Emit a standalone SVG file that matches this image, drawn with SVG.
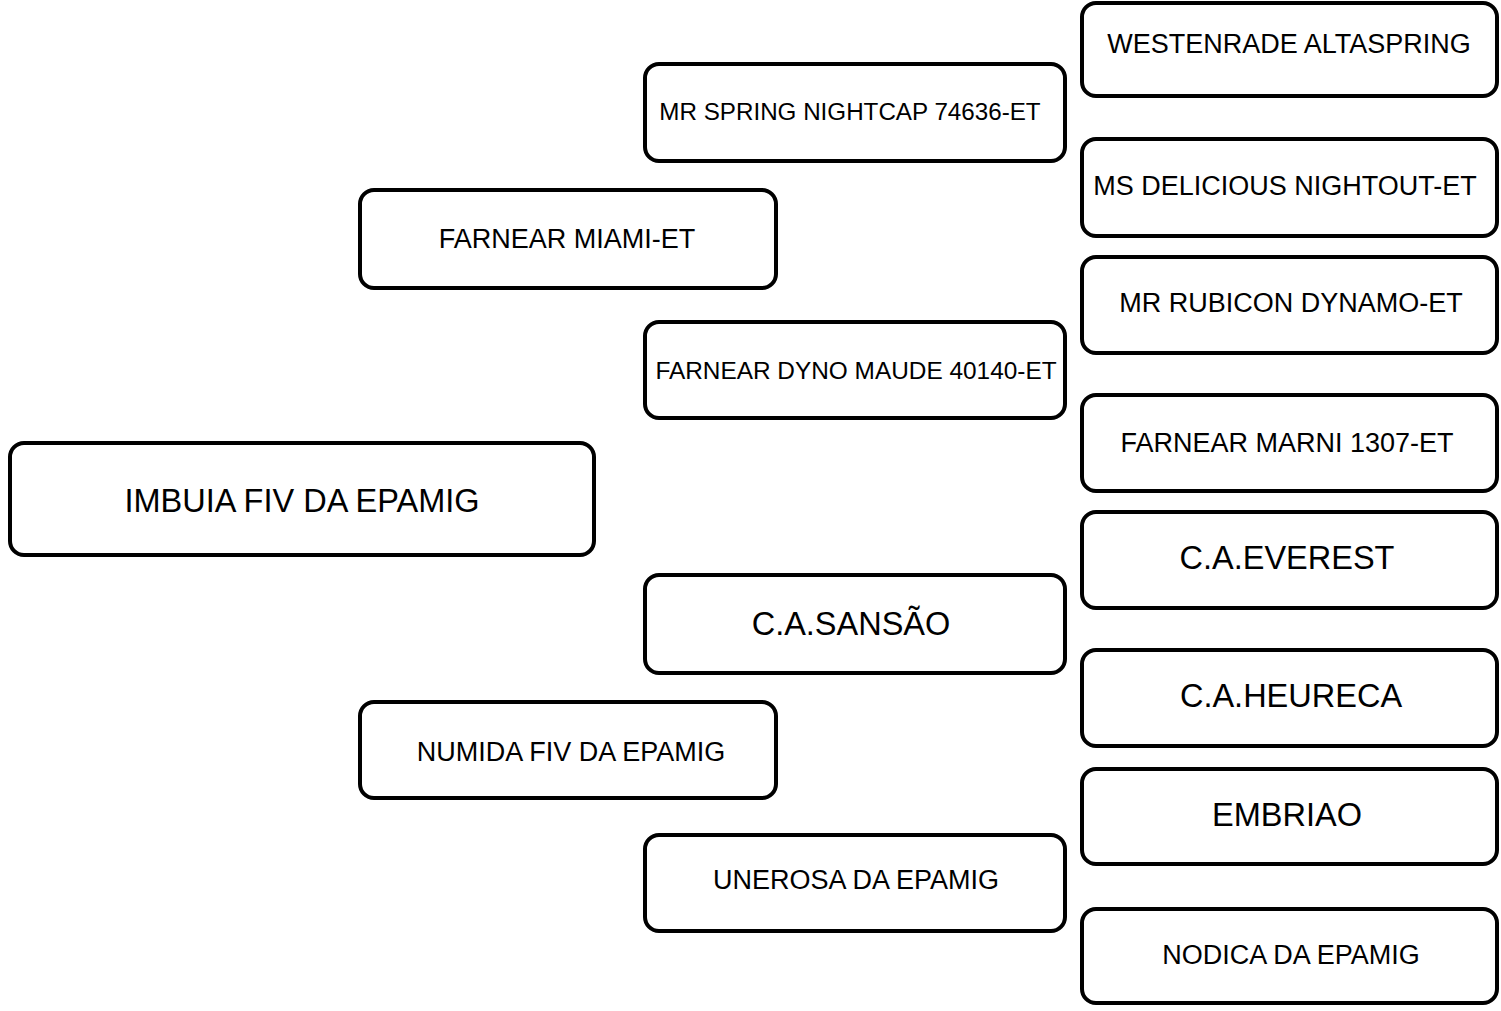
<svg xmlns="http://www.w3.org/2000/svg" width="1501" height="1011" viewBox="0 0 1501 1011">
<style>
.box{fill:#fff;stroke:#000;stroke-width:4}
.t{font-family:"Liberation Sans",Arial,sans-serif;fill:#000;text-anchor:middle}
.s{font-size:27px}
.l{font-size:32.5px}
</style>
<rect width="1501" height="1011" fill="#fff"/>
<g id="connectors"></g>
<g id="n-root"><rect class="box" x="10" y="443" width="584" height="112" rx="14"/><text class="t l" x="302" y="512">IMBUIA FIV DA EPAMIG</text></g>
<g id="n-sire"><rect class="box" x="360" y="190" width="416" height="98" rx="14"/><text class="t s" x="567" y="248">FARNEAR MIAMI-ET</text></g>
<g id="n-dam"><rect class="box" x="360" y="702" width="416" height="96" rx="14"/><text class="t s" x="571" y="761">NUMIDA FIV DA EPAMIG</text></g>
<g id="n-ss"><rect class="box" x="645" y="64" width="420" height="97" rx="14"/><text class="t" style="font-size:24.2px" x="850" y="120">MR SPRING NIGHTCAP 74636-ET</text></g>
<g id="n-sd"><rect class="box" x="645" y="322" width="420" height="96" rx="14"/><text class="t" style="font-size:24.4px" x="856" y="379">FARNEAR DYNO MAUDE 40140-ET</text></g>
<g id="n-ds"><rect class="box" x="645" y="575" width="420" height="98" rx="14"/><text class="t l" x="851" y="635">C.A.SANSÃO</text></g>
<g id="n-dd"><rect class="box" x="645" y="835" width="420" height="96" rx="14"/><text class="t s" x="856" y="889">UNEROSA DA EPAMIG</text></g>
<g id="n-sss"><rect class="box" x="1082" y="3" width="415" height="93" rx="14"/><text class="t s" x="1289" y="53">WESTENRADE ALTASPRING</text></g>
<g id="n-ssd"><rect class="box" x="1082" y="139" width="415" height="97" rx="14"/><text class="t s" x="1285" y="195">MS DELICIOUS NIGHTOUT-ET</text></g>
<g id="n-sds"><rect class="box" x="1082" y="257" width="415" height="96" rx="14"/><text class="t s" x="1291" y="312">MR RUBICON DYNAMO-ET</text></g>
<g id="n-sdd"><rect class="box" x="1082" y="395" width="415" height="96" rx="14"/><text class="t s" x="1287" y="452">FARNEAR MARNI 1307-ET</text></g>
<g id="n-dss"><rect class="box" x="1082" y="512" width="415" height="96" rx="14"/><text class="t l" x="1287" y="569">C.A.EVEREST</text></g>
<g id="n-dsd"><rect class="box" x="1082" y="650" width="415" height="96" rx="14"/><text class="t l" x="1291" y="707">C.A.HEURECA</text></g>
<g id="n-dds"><rect class="box" x="1082" y="769" width="415" height="95" rx="14"/><text class="t l" x="1287" y="826">EMBRIAO</text></g>
<g id="n-ddd"><rect class="box" x="1082" y="909" width="415" height="94" rx="14"/><text class="t s" x="1291" y="964">NODICA DA EPAMIG</text></g>
</svg>
